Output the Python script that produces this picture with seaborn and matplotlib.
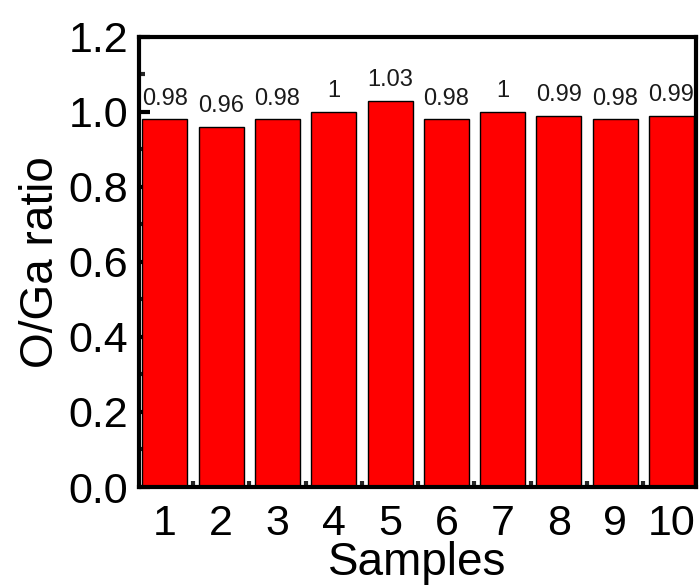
import matplotlib
matplotlib.use("Agg")
import matplotlib.pyplot as plt
import seaborn as sns
import pandas as pd
import numpy as np
from matplotlib.ticker import MultipleLocator, FixedLocator, FormatStrFormatter

samples = ["1", "2", "3", "4", "5", "6", "7", "8", "9", "10"]
ratios = [0.98, 0.96, 0.98, 1.00, 1.03, 0.98, 1.00, 0.99, 0.98, 0.99]
value_labels = ["0.98", "0.96", "0.98", "1", "1.03", "0.98", "1", "0.99", "0.98", "0.99"]

sns.set_style("ticks")
plt.rcParams['font.family'] = ['Liberation Sans', 'DejaVu Sans']
plt.rcParams['text.color'] = 'black'
plt.rcParams['axes.labelcolor'] = 'black'

df = pd.DataFrame({"Samples": samples, "ratio": ratios})

fig = plt.figure(figsize=(6.99, 5.85), dpi=100)
ax = fig.add_axes([0.199, 0.1675, 0.797, 0.7695])

sns.barplot(data=df, x="Samples", y="ratio", order=samples, color="#FF0000",
            saturation=1, width=0.8, edgecolor="black", linewidth=1, ax=ax)

ax.bar_label(ax.containers[0], labels=value_labels, padding=7, fontsize=17, color="#1a1a1a")

ax.set_ylim(0, 1.2)
ax.set_xlim(-0.46, 9.44)
ax.yaxis.set_major_locator(MultipleLocator(0.2))
ax.yaxis.set_minor_locator(MultipleLocator(0.1))
ax.yaxis.set_major_formatter(FormatStrFormatter("%.1f"))
ax.xaxis.set_minor_locator(FixedLocator(np.arange(0.5, 9, 1)))

for s in ax.spines.values():
    s.set_visible(True)
    s.set_linewidth(3)
    s.set_color("black")

ax.tick_params(axis="both", which="major", direction="in", length=8, width=3,
               labelsize=31, colors="black", pad=8)
ax.tick_params(axis="both", which="minor", direction="in", length=4, width=3)
ax.tick_params(axis="x", which="major", pad=12)

ax.set_xlabel("Samples", fontsize=33, labelpad=-2)
ax.set_ylabel("O/Ga ratio", fontsize=33, labelpad=4)

fig.savefig("out.png", dpi=100)
